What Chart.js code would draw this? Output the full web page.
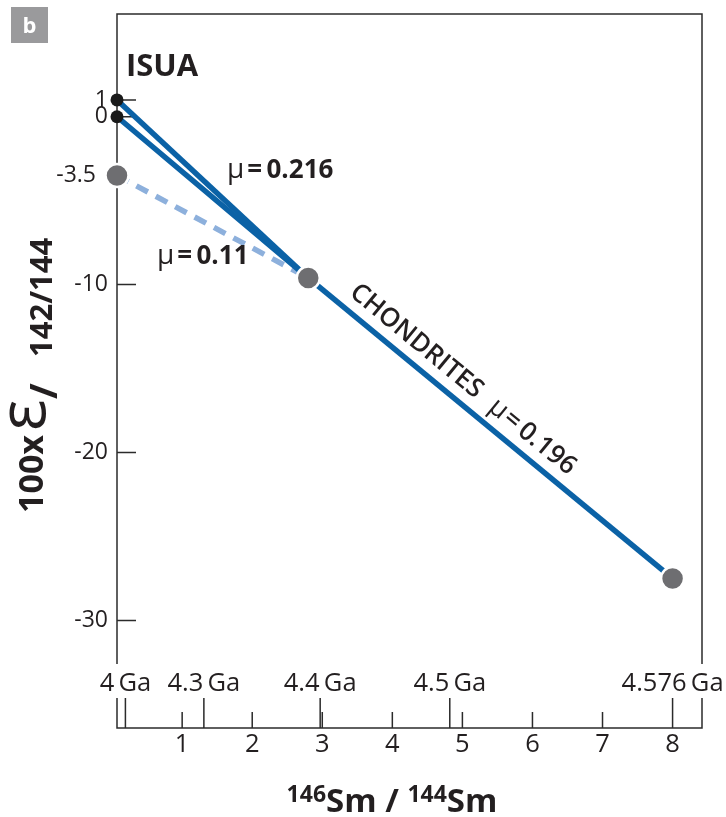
<!DOCTYPE html>
<html>
<head>
<meta charset="utf-8">
<script src="https://cdn.jsdelivr.net/npm/chart.js@4.4.0/dist/chart.umd.min.js"></script>
<style>
  html, body { margin: 0; padding: 0; background: #fff; }
  #wrap { position: relative; width: 726px; height: 817px; }
</style>
</head>
<body>
<div id="wrap"><canvas id="smChart"></canvas></div>
<script>
// 146Sm/144Sm (x) against 100 x epsilon 142/144 (y)
var isuaUpper = [[0.07, 1], [2.8, -9.6]];
var isuaLower = [[0.07, 0], [2.8, -9.6]];
var mantleLine = [[0.07, -3.5], [2.8, -9.6]];
var chondriteLine = [[2.8, -9.6], [8.0, -27.5]];
var greyPoints = [[0.07, -3.5], [2.8, -9.6], [8.0, -27.5]];
var blackPoints = [[0.07, 1], [0.07, 0]];

var yTicks = [1, 0, -10, -20, -30];
var yTickLabels = ['1', '0', '-10', '-20', '-30'];
var smTicks = [1, 2, 3, 4, 5, 6, 7, 8];
var gaTicks = [0.19, 1.31, 2.97, 4.82, 8.0];
var gaLabels = ['4\u2009Ga', '4.3\u2009Ga', '4.4\u2009Ga', '4.5\u2009Ga', '4.576\u2009Ga'];

var X_MIN = 0.07, X_MAX = 8.42;
var Y_MIN = -36.41, Y_MAX = 6.12, Y_BOX_MIN = -32.6;

var BLUE = '#0b62a6';
var LIGHT_BLUE = '#8db0dc';
var GREY = '#6e6e71';
var INK = '#231f20';
var FONT = "'Open Sans', sans-serif";

function pts(arr) {
    return arr.map(function (p) { return { x: p[0], y: p[1] }; });
}

// draw a row of text pieces with different fonts, left to right
function drawRuns(ctx, runs, x, y) {
    runs.forEach(function (r) {
        ctx.font = r.font;
        ctx.fillText(r.t, x, y + (r.dy || 0));
        x += ctx.measureText(r.t).width + (r.gap || 0);
    });
    return x;
}
function runsWidth(ctx, runs) {
    var w = 0;
    runs.forEach(function (r) { ctx.font = r.font; w += ctx.measureText(r.t).width + (r.gap || 0); });
    return w;
}

var frame = {
    id: 'frame',
    beforeDatasetsDraw: function (chart) {
        var ctx = chart.ctx, xs = chart.scales.x, ys = chart.scales.y, a = chart.chartArea;
        var left = a.left, right = a.right, top = a.top, base = a.bottom;
        var boxBottom = ys.getPixelForValue(Y_BOX_MIN);
        ctx.save();
        ctx.strokeStyle = '#2b2b2b';
        ctx.lineWidth = 1.5;
        ctx.beginPath();
        // plot box (open at the bottom)
        ctx.moveTo(left, boxBottom); ctx.lineTo(left, top); ctx.lineTo(right, top); ctx.lineTo(right, boxBottom);
        // y ticks point inward
        yTicks.forEach(function (v) {
            var p = ys.getPixelForValue(v);
            ctx.moveTo(left, p); ctx.lineTo(left + 19, p);
        });
        // lower bracket axis
        ctx.moveTo(left, base - 30); ctx.lineTo(left, base); ctx.lineTo(right, base); ctx.lineTo(right, base - 30);
        gaTicks.forEach(function (v) {
            var p = xs.getPixelForValue(v);
            ctx.moveTo(p, base - 30); ctx.lineTo(p, base);
        });
        smTicks.forEach(function (v) {
            var p = xs.getPixelForValue(v);
            ctx.moveTo(p, base - 16); ctx.lineTo(p, base);
        });
        ctx.stroke();

        ctx.fillStyle = INK;
        ctx.textBaseline = 'middle';
        ctx.textAlign = 'right';
        ctx.font = '23px ' + FONT;
        yTicks.forEach(function (v, i) {
            ctx.fillText(yTickLabels[i], left - 9, ys.getPixelForValue(v));
        });
        ctx.fillText('-3.5', left - 21, ys.getPixelForValue(-3.5));

        ctx.textAlign = 'center';
        ctx.font = '25.5px ' + FONT;
        gaTicks.forEach(function (v, i) {
            ctx.fillText(gaLabels[i], xs.getPixelForValue(v), base - 44);
        });
        smTicks.forEach(function (v) {
            ctx.fillText(String(v), xs.getPixelForValue(v), base + 17);
        });
        ctx.restore();
    },
    afterDatasetsDraw: function (chart) {
        var ctx = chart.ctx, xs = chart.scales.x, ys = chart.scales.y;
        ctx.save();
        ctx.fillStyle = INK;
        ctx.textBaseline = 'alphabetic';
        ctx.textAlign = 'left';

        // panel letter
        ctx.fillStyle = '#9a9a9c';
        ctx.fillRect(11, 7, 37, 36);
        ctx.fillStyle = '#fff';
        ctx.font = 'bold 22px ' + FONT;
        ctx.textAlign = 'center';
        ctx.fillText('b', 29.5, 33);
        ctx.textAlign = 'left';
        ctx.fillStyle = INK;

        ctx.font = 'bold 31px ' + FONT;
        ctx.fillText('ISUA', 126, 76);

        drawRuns(ctx, [
            { t: '\u03bc', font: '28px ' + FONT, gap: 3 },
            { t: '=\u20090.216', font: 'bold 26px ' + FONT }
        ], 227, 178);
        drawRuns(ctx, [
            { t: '\u03bc', font: '28px ' + FONT, gap: 3 },
            { t: '=\u20090.11', font: 'bold 26px ' + FONT }
        ], 157, 264);

        // label along the chondrite line
        var p1 = { x: xs.getPixelForValue(chondriteLine[0][0]), y: ys.getPixelForValue(chondriteLine[0][1]) };
        var p2 = { x: xs.getPixelForValue(chondriteLine[1][0]), y: ys.getPixelForValue(chondriteLine[1][1]) };
        var ang = Math.atan2(p2.y - p1.y, p2.x - p1.x);
        var ux = Math.cos(ang), uy = Math.sin(ang);
        var cx = p1.x + ux * 184 + uy * 20, cy = p1.y + uy * 184 - ux * 20;
        ctx.save();
        ctx.translate(cx, cy);
        ctx.rotate(ang);
        ctx.textBaseline = 'middle';
        var chRuns = [
            { t: 'CHONDRITES', font: '600 26px ' + FONT, gap: 16 },
            { t: '\u03bc', font: '27px ' + FONT, gap: 2 },
            { t: '=\u20090.196', font: '600 26px ' + FONT }
        ];
        drawRuns(ctx, chRuns, -runsWidth(ctx, chRuns) / 2, 0);
        ctx.restore();

        // y axis title, reading upward
        ctx.save();
        ctx.translate(43, 513);
        ctx.rotate(-Math.PI / 2);
        ctx.font = 'bold 34px ' + FONT;
        ctx.fillText('100x', 0, 0);
        ctx.font = '66px ' + FONT;
        ctx.fillText('\u03b5', 82, 2);
        ctx.font = 'bold 38px ' + FONT;
        ctx.fillText('/', 114, 14);
        ctx.font = 'bold 31px ' + FONT;
        ctx.fillText('142/144', 156, 9);
        ctx.restore();

        // x axis title
        var tRuns = [
            { t: '146', font: 'bold 23px ' + FONT, dy: -10 },
            { t: 'Sm', font: 'bold 33px ' + FONT },
            { t: ' / ', font: 'bold 33px ' + FONT },
            { t: '144', font: 'bold 23px ' + FONT, dy: -10 },
            { t: 'Sm', font: 'bold 33px ' + FONT }
        ];
        drawRuns(ctx, tRuns, 392 - runsWidth(ctx, tRuns) / 2, 812);
        ctx.restore();
    }
};

function lineSet(label, arr, color, dash) {
    return {
        label: label,
        data: pts(arr),
        showLine: true,
        borderColor: color,
        borderWidth: 5.5,
        borderDash: dash || [],
        borderCapStyle: 'butt',
        pointRadius: 0,
        clip: false,
        order: 2
    };
}

var ctx = document.getElementById('smChart').getContext('2d');
var smChart = new Chart(ctx, {
    type: 'scatter',
    data: {
        datasets: [
            {
                label: 'samples',
                data: pts(greyPoints).concat(pts(blackPoints)),
                pointRadius: greyPoints.map(function () { return 11.5; }).concat(blackPoints.map(function () { return 6.5; })),
                pointBackgroundColor: greyPoints.map(function () { return GREY; }).concat(blackPoints.map(function () { return '#1a1a1a'; })),
                pointBorderColor: '#fff',
                pointBorderWidth: greyPoints.map(function () { return 2.5; }).concat(blackPoints.map(function () { return 0; })),
                showLine: false,
                clip: false,
                order: 1
            },
            lineSet('ISUA upper', isuaUpper, BLUE),
            lineSet('ISUA lower', isuaLower, BLUE),
            lineSet('mu 0.11', mantleLine, LIGHT_BLUE, [13, 9]),
            lineSet('Chondrites', chondriteLine, BLUE)
        ]
    },
    options: {
        responsive: true,
        maintainAspectRatio: false,
        animation: false,
        devicePixelRatio: 1,
        layout: { padding: { left: 117, right: 24, top: 5, bottom: 89 } },
        plugins: {
            legend: { display: false },
            tooltip: { enabled: false }
        },
        scales: {
            x: { type: 'linear', min: X_MIN, max: X_MAX, display: false },
            y: { type: 'linear', min: Y_MIN, max: Y_MAX, display: false }
        }
    },
    plugins: [frame]
});
</script>
</body>
</html>
